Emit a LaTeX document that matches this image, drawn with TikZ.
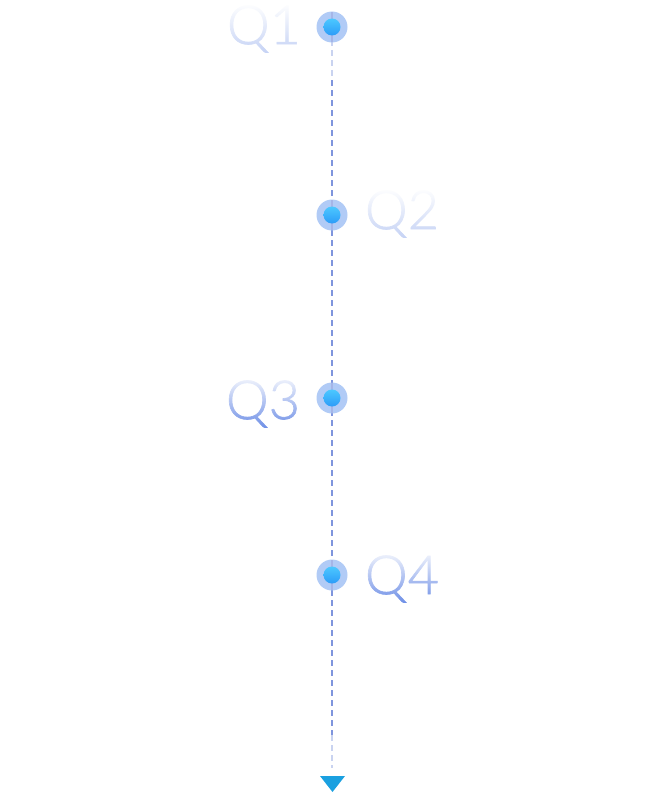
\documentclass[tikz,border=0pt]{standalone}
\usepackage{fontspec}
\setmainfont{Lato Light}[FakeBold=1.2]
\usetikzlibrary{fadings}
\definecolor{linec}{HTML}{7F95DD}
\definecolor{linelt}{HTML}{C9D3F0}
\definecolor{outerc}{HTML}{A3C2F4}
\definecolor{innertop}{HTML}{4CC8FF}
\definecolor{innerbot}{HTML}{2C9CF8}
\definecolor{tric}{HTML}{1AA0E0}
\definecolor{qblue}{HTML}{6A8CE6}
% white veils: opaque at top, thinner at bottom
\tikzfading[name=veilA, top color=transparent!0, bottom color=transparent!40]
\tikzfading[name=veilB, top color=transparent!10, bottom color=transparent!100]
\tikzset{
  outerdot/.style={circle, fill=outerc, fill opacity=0.85, minimum size=31pt, inner sep=0pt},
  innerdot/.style={circle, top color=innertop, bottom color=innerbot, minimum size=17pt, inner sep=0pt},
  qlabel/.style={text=qblue, font=\fontsize{54}{54}\selectfont, inner sep=0pt},
  dashline/.style={dash pattern=on 6pt off 4pt, line width=1.2pt},
}
\begin{document}
\begin{tikzpicture}[x=1pt, y=-1pt]
\useasboundingbox (0,0) rectangle (666,792);
% coordinates along the line
\coordinate (top) at (332,40);
\coordinate (a) at (332,80);
\coordinate (b) at (332,735);
\coordinate (bot) at (332,768);
\draw[dashline, linelt] (top) -- (a);
\draw[dashline, linec] (a) -- (b);
\draw[dashline, linelt] (b) -- (bot);
% triangle
\coordinate (t1) at (320,776);
\coordinate (t2) at (345,776);
\coordinate (t3) at (332.5,792);
\fill[tric] (t1) -- (t2) -- (t3) -- cycle;
% dots
\foreach \n/\y in {1/27, 2/215, 3/398, 4/575}{
  \node[outerdot] (o\n) at (332,\y) {};
  \draw[line width=1.2pt, linec!70] (332,\y-15) -- (332,\y+15);
  \node[innerdot] (i\n) at (332,\y) {};
}
% labels
\node[qlabel] (q1) at (264,29) {Q1};
\node[qlabel] (q2) at (402,214) {Q2};
\node[qlabel] (q3) at (263,404) {Q3};
\node[qlabel] (q4) at (402,579) {Q4};
% gradient veils over labels
\fill[white, path fading=veilA] ([yshift=2pt]q1.north west) rectangle ([yshift=-2pt]q1.south east);
\fill[white, path fading=veilA] ([yshift=2pt]q2.north west) rectangle ([yshift=-2pt]q2.south east);
\fill[white, path fading=veilB] ([yshift=2pt]q3.north west) rectangle ([yshift=-2pt]q3.south east);
\fill[white, path fading=veilB] ([yshift=2pt]q4.north west) rectangle ([yshift=-2pt]q4.south east);
\end{tikzpicture}
\end{document}
